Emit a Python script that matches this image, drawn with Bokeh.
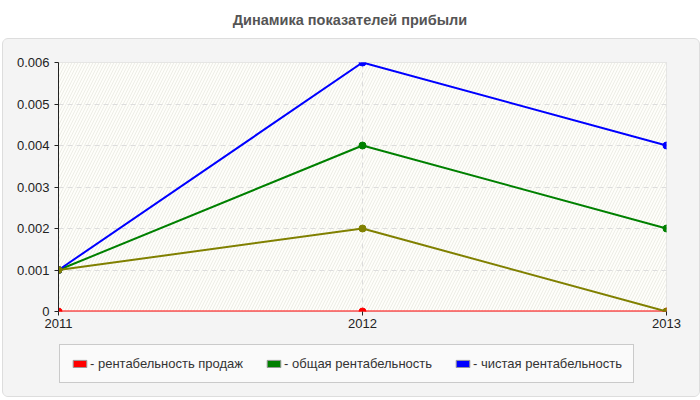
from bokeh.plotting import figure
from bokeh.models import (ColumnDataSource, FixedTicker, Legend, LegendItem,
                          BoxAnnotation, Div, Range1d)
from bokeh.layouts import column
from bokeh.embed import file_html
from bokeh.resources import INLINE

# ---- data ----
title_text = "Динамика показателей прибыли"
years = [2011, 2012, 2013]
sales_profitability = [0.0, 0.0, 0.0]
total_profitability = [0.001, 0.004, 0.002]
net_profitability = [0.001, 0.006, 0.004]
extra_series = [0.001, 0.002, 0.0]
y_ticks = [0, 0.001, 0.002, 0.003, 0.004, 0.005, 0.006]
y_tick_labels = ["0", "0.001", "0.002", "0.003", "0.004", "0.005", "0.006"]
x_tick_labels = ["2011", "2012", "2013"]
legend_labels = ["- рентабельность продаж", "- общая рентабельность", "- чистая рентабельность"]

FONT = "Liberation Sans"
PANEL = "#f4f4f4"

title = Div(text=title_text, width=700, height=38, margin=0,
            styles={"text-align": "center", "font-weight": "bold", "font-size": "14.5px",
                    "color": "#555555", "font-family": FONT, "line-height": "40px",
                    "width": "700px"})

p = figure(frame_width=608, frame_height=249, output_backend="svg", toolbar_location=None,
           x_range=Range1d(2011, 2013), y_range=Range1d(0, 0.006),
           min_border_left=55, min_border_right=32, min_border_top=23, min_border_bottom=25)
p.border_fill_color = PANEL
p.background_fill_color = "#fefefa"
p.outline_line_color = "#dddddd"

p.add_layout(BoxAnnotation(fill_color="#fefefa", fill_alpha=1, line_alpha=0,
                           hatch_pattern="/", hatch_color="#ededE6", hatch_scale=6,
                           hatch_weight=1, level="image"))

# axes
p.xaxis.ticker = FixedTicker(ticks=years)
p.xaxis.major_label_overrides = {y: l for y, l in zip(years, x_tick_labels)}
p.yaxis.ticker = FixedTicker(ticks=y_ticks)
p.yaxis.major_label_overrides = {t: l for t, l in zip(y_ticks, y_tick_labels)}
for ax in (p.xaxis[0], p.yaxis[0]):
    ax.major_label_text_font = FONT
    ax.major_label_text_font_size = "13px"
    ax.major_label_text_color = "#222222"
    ax.axis_line_color = "#222222"
    ax.major_tick_line_color = "#222222"
    ax.major_tick_out = 4
    ax.major_tick_in = 0
    ax.minor_tick_line_color = None
    ax.major_label_standoff = 3
p.yaxis.major_label_standoff = 5
p.xaxis.axis_line_color = None

p.xgrid.grid_line_color = "#dddddd"
p.xgrid.grid_line_dash = "5 4"
p.ygrid.grid_line_color = "#dddddd"
p.ygrid.grid_line_dash = "5 4"

src = ColumnDataSource(dict(x=years, red=sales_profitability, green=total_profitability,
                            blue=net_profitability, olive=extra_series))
colors = [("red", "#ff0000"), ("green", "#008000"), ("blue", "#0000ff"), ("olive", "#808000")]
for col, c in colors:
    p.line("x", col, source=src, line_color=c, line_width=2)
    p.scatter("x", col, source=src, size=7, fill_color=c, line_color=c)

# legend strip (second figure sharing the panel background)
lf = figure(frame_width=696, frame_height=60, output_backend="svg", toolbar_location=None,
            x_axis_type=None, y_axis_type=None, min_border=0,
            x_range=Range1d(2011, 2013), y_range=Range1d(0, 0.006))
lf.border_fill_color = PANEL
lf.background_fill_color = PANEL
lf.outline_line_color = None
lf.xgrid.visible = False
lf.ygrid.visible = False

items = []
for (col, c), lab in zip(colors[:3], legend_labels):
    r = lf.quad(left="x", right="x", top=col, bottom=col, source=src,
                fill_color=c, line_color="#999999", line_width=1, visible=False)
    items.append(LegendItem(label=lab, renderers=[r]))

legend = Legend(items=items, orientation="horizontal", location=(56, 13),
                label_text_font=FONT, label_text_font_size="13px",
                label_text_color="#333333", glyph_width=17, glyph_height=9,
                label_standoff=2, spacing=22, padding=11, margin=0,
                border_line_color="#999999", border_line_width=1,
                background_fill_color="#fafafa", background_fill_alpha=1)
lf.add_layout(legend, "center")

panel = column(p, lf, spacing=0, margin=(0, 0, 0, 2),
               styles={"border": "1px solid #dddddd", "border-radius": "6px",
                       "overflow": "hidden", "background-color": PANEL})
layout = column(title, panel, spacing=0)
open("out.html", "w").write(file_html(layout, INLINE))
